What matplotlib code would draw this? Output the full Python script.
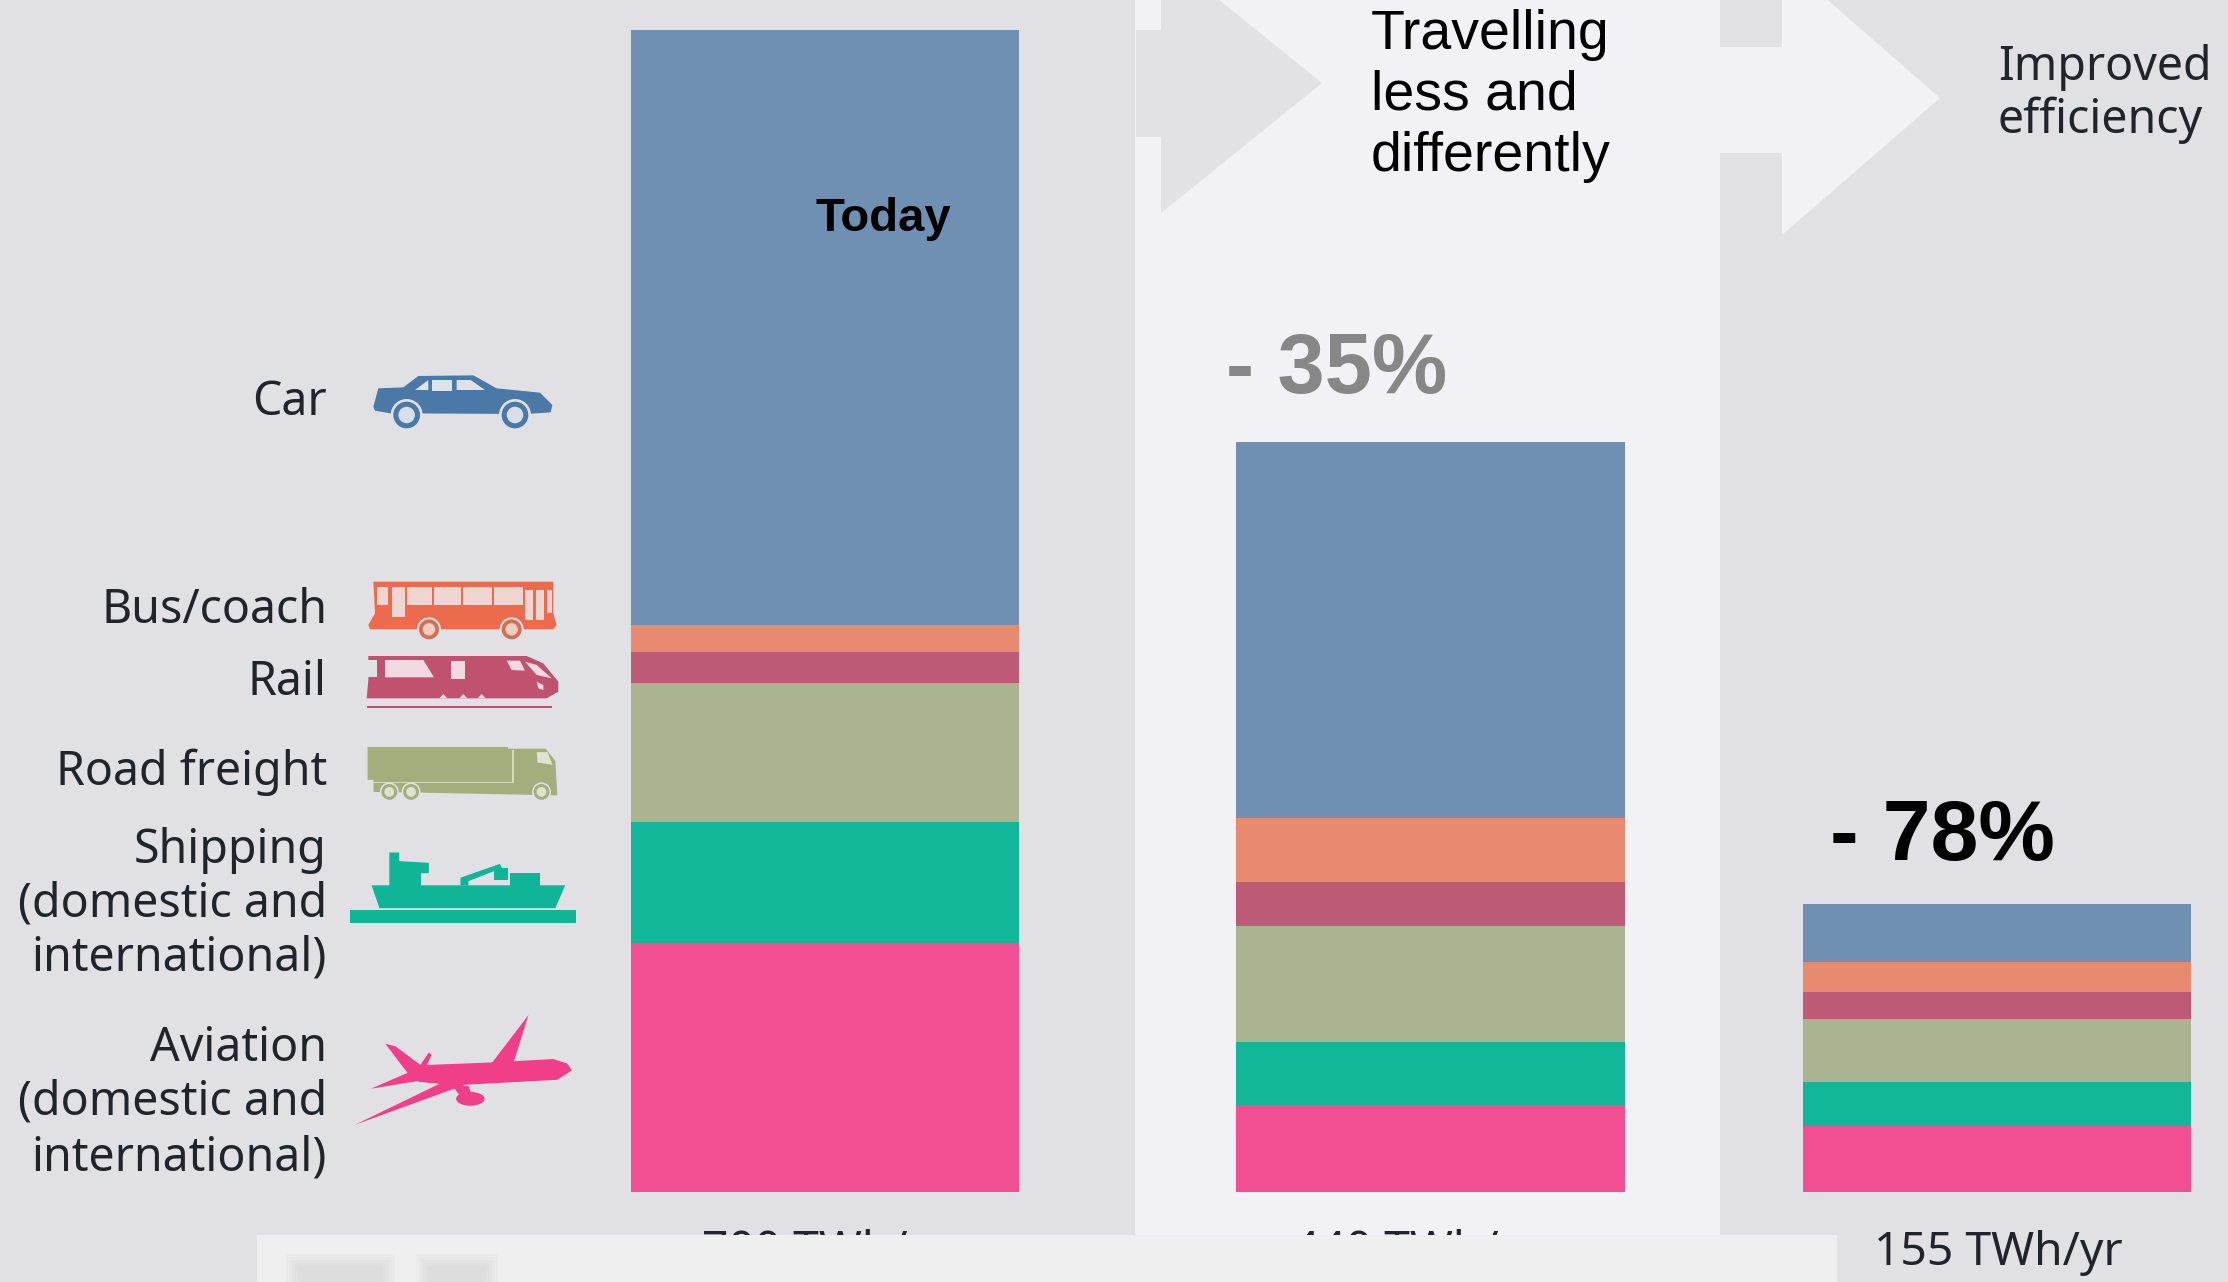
import matplotlib
matplotlib.use('Agg')
import matplotlib.pyplot as plt
from matplotlib.patches import Polygon, Rectangle, Circle, Ellipse

# energy demand per mode, TWh/yr, top of the stack first
modes = ['Car', 'Bus/coach', 'Rail', 'Road freight', 'Shipping', 'Aviation']
today = [358.4, 16.3, 18.7, 83.7, 72.6, 150.3]
less_travel = [220.7, 37.3, 26.0, 68.0, 37.0, 51.0]
efficient = [31.3, 16.1, 14.5, 33.9, 23.7, 35.5]
scenarios = [today, less_travel, efficient]
totals = ['700 TWh/yr', '440 TWh/yr', '155 TWh/yr']

colors = ['#6f8fb3', '#e78a70', '#bd5b77', '#abb490', '#12b79a', '#f14f92']
icon_colors = ['#4a79a8', '#ec6b4c', '#c1526f', '#a4ad7c', '#10b497', '#f03e88']

W, H = 2228, 1282
BG = '#e1e1e5'
LIGHT = '#f1f1f6'
SANS = 'Liberation Sans'
LABEL = 'Noto Sans'
INK = '#22242b'

# bar frames in pixels: left, right, top
frames = [(631, 1019, 30), (1236, 1625, 442), (1803, 2191, 904)]
BASE = 1192

fig = plt.figure(figsize=(W / 100, H / 100), dpi=100, facecolor=BG)

# full figure layer in pixel coordinates, y pointing down
bg = fig.add_axes([0, 0, 1, 1])
bg.set_xlim(0, W)
bg.set_ylim(H, 0)
bg.axis('off')


def poly(pts, color, zorder=2):
    bg.add_patch(Polygon(pts, closed=True, fc=color, ec='none', zorder=zorder))


def shape(pts, ox, oy, sx, sy, color, zorder=3):
    poly([(ox + x / sx, oy + y / sy) for x, y in pts], color, zorder)


def box(x, y, w, h, ox, oy, sx, sy, color, zorder=4):
    bg.add_patch(Rectangle((ox + x / sx, oy + y / sy), w / sx, h / sy,
                           fc=color, ec='none', zorder=zorder))


def wheel(x, y, r, ox, oy, sx, sy, color, hub):
    cx, cy = ox + x / sx, oy + y / sy
    bg.add_patch(Circle((cx, cy), r * 1.2 / sx, fc=BG, ec='none', zorder=5))
    bg.add_patch(Circle((cx, cy), r / sx, fc=color, ec='none', zorder=6))
    bg.add_patch(Circle((cx, cy), r * 0.62 / sx, fc=hub, ec='none', zorder=7))


# light middle column and the two arrows
bg.add_patch(Rectangle((1135, 0), 585, 1240, fc=LIGHT, ec='none', zorder=1))
poly([(1136, 30), (1161, 30), (1161, -47), (1322, 83), (1161, 213), (1161, 137), (1136, 137)],
     '#e2e2e6')
poly([(1720, 47), (1782, 47), (1782, -40), (1940, 98), (1782, 235), (1782, 153), (1720, 153)],
     LIGHT)

# stacked bars, one axes per scenario so each stack spans its own total
bar_axes = []
for vals, (x0, x1, top) in zip(scenarios, frames):
    ax = fig.add_axes([x0 / W, 1 - BASE / H, (x1 - x0) / W, (BASE - top) / H])
    ax.patch.set_alpha(0)
    bottom = sum(vals)
    ax.set_xlim(-0.5, 0.5)
    ax.set_ylim(0, bottom)
    ax.axis('off')
    for v, c in zip(vals, colors):
        bottom -= v
        ax.bar(0, v, width=1, bottom=bottom, color=c, linewidth=0)
    bar_axes.append(ax)

# headers and percentages
bar_axes[0].text(816, 231, 'Today', transform=bg.transData, family=SANS, weight='bold',
                 fontsize=34, color='black', clip_on=False)
bg.text(1226, 393, '- 35%', family=SANS, weight='bold', fontsize=61, color='#878787', zorder=8)
bg.text(1830, 860, '- 78%', family=SANS, weight='bold', fontsize=62, color='black', zorder=8)
for line, y in zip(['Travelling', 'less and', 'differently'], [49, 110, 171]):
    bg.text(1371, y, line, family=SANS, fontsize=40, color='black', zorder=8)
for line, y in zip(['Improved', 'efficiency'], [80, 133]):
    bg.text(1998, y, line, family=LABEL, fontsize=33.5, color=INK, zorder=8)

# mode labels, right aligned against the icons
side_labels = [('Car', 415), ('Bus/coach', 623), ('Rail', 695), ('Road freight', 785),
               ('Shipping', 863), ('(domestic and', 917), ('international)', 971),
               ('Aviation', 1061), ('(domestic and', 1115), ('international)', 1170)]
for txt, y in side_labels:
    bg.text(327, y, txt, family=LABEL, fontsize=33.5, color=INK, ha='right', zorder=8)

# totals under the bars; the first two run under the pasted panel
for txt, cx, y in zip(totals, [826, 1417, 1998], [1264, 1264, 1265]):
    bg.text(cx, y, txt, family=LABEL, fontsize=33.3, color=INK, ha='center', zorder=8)

# pale panel across the bottom with a smudged caption
bg.add_patch(Rectangle((257, 1235), 1580, 47, fc='#efeff0', ec='none', zorder=9))
for x, w in [(298, 85), (428, 58)]:
    for grow in [12, 9, 6, 3, 0]:
        bg.add_patch(Rectangle((x - grow, 1266 - grow), w + 2 * grow, 16 + grow,
                               fc='#bcbcbc', ec='none', alpha=0.07, zorder=10))

# car
c = icon_colors[0]
g = (340, 360, 3, 3)
shape([(100, 140), (115, 85), (190, 82), (235, 48), (400, 46), (470, 85), (600, 98),
       (637, 135), (632, 157), (560, 162), (150, 160), (105, 152)], *g, c)
for pts in [[(225, 90), (265, 60), (265, 90)],
            [(277, 60), (335, 60), (335, 92), (277, 92)],
            [(350, 60), (392, 60), (435, 90), (350, 90)]]:
    shape(pts, *g, '#dde3ec', zorder=4)
wheel(200, 165, 40, *g, c, '#d9dfe8')
wheel(525, 165, 40, *g, c, '#d9dfe8')

# bus
c = icon_colors[1]
g = (340, 570, 3, 3)
shape([(100, 35), (640, 35), (640, 130), (650, 165), (640, 178), (90, 178), (85, 165), (105, 130)],
      *g, c)
for x, y, w, h in [(110, 50, 35, 55), (155, 50, 40, 90), (200, 50, 75, 55), (282, 50, 80, 55),
                   (370, 50, 85, 55), (463, 50, 85, 55), (555, 60, 25, 90), (588, 60, 25, 90),
                   (620, 60, 15, 70)]:
    box(x, y, w, h, *g, '#efd6d2')
wheel(267, 178, 30, *g, '#d0705a', '#f3cdbd')
wheel(515, 178, 30, *g, '#d0705a', '#f3cdbd')

# train
c = icon_colors[2]
g = (340, 570, 3, 3)
shape([(85, 258), (560, 258), (610, 280), (655, 335), (655, 365), (620, 385), (80, 385), (85, 330)],
      *g, c)
light = '#f2d8df'
shape([(135, 270), (250, 270), (282, 322), (135, 322)], *g, light, zorder=4)
shape([(80, 270), (110, 270), (110, 320), (80, 320)], *g, BG, zorder=4)
box(332, 272, 42, 55, *g, light)
shape([(500, 272), (540, 272), (555, 302), (515, 300)], *g, light, zorder=4)
shape([(555, 275), (590, 285), (635, 325), (590, 315)], *g, light, zorder=4)
shape([(590, 335), (610, 345), (610, 360), (595, 355)], *g, light, zorder=4)
for x in [310, 370, 425]:
    shape([(x - 12, 385), (x, 372), (x + 12, 385)], *g, light, zorder=4)
box(80, 408, 555, 5, *g, c)

# truck
c = icon_colors[3]
g = (0, 740, 2.53, 2.89)
shape([(930, 20), (1285, 20), (1285, 25), (1380, 25), (1405, 60), (1410, 160), (1060, 152),
       (945, 150), (945, 115), (930, 115)], *g, c)
box(1296, 30, 5, 92, *g, '#d5d9bf')
box(945, 120, 355, 4, *g, '#d5d9bf')
shape([(1358, 35), (1385, 35), (1398, 72), (1360, 65)], *g, '#dfe2d3', zorder=4)
for x in [985, 1040, 1370]:
    wheel(x, 150, 20, *g, c, '#e0e2d0')

# ship
c = icon_colors[4]
g = (0, 740, 2.53, 2.89)
shape([(940, 420), (1430, 420), (1405, 486), (960, 486)], *g, c)
shape([(985, 325), (1010, 325), (1010, 350), (1085, 355), (1085, 385), (1065, 385),
       (1065, 425), (985, 425)], *g, c)
shape([(1290, 385), (1365, 385), (1365, 425), (1290, 425)], *g, c)
shape([(1250, 370), (1285, 370), (1285, 405), (1250, 405)], *g, c)
shape([(1165, 398), (1265, 358), (1270, 370), (1185, 408), (1185, 420), (1165, 420)], *g, c)
box(885, 492, 573, 36, *g, c)

# plane
c = icon_colors[5]
g = (0, 740, 2.53, 2.89)
shape([(1030, 965), (1060, 940), (1240, 932), (1400, 922), (1435, 935), (1447, 955), (1410, 982),
       (1150, 998), (1060, 988)], *g, c)
shape([(975, 878), (1000, 885), (1065, 940), (1035, 968)], *g, c)
shape([(938, 1008), (1035, 960), (1060, 985)], *g, c)
shape([(1240, 940), (1337, 795), (1300, 930)], *g, c)
shape([(898, 1112), (1180, 995), (1115, 992)], *g, c)
shape([(1060, 945), (1085, 903), (1092, 910), (1078, 945)], *g, c)
shape([(1145, 1000), (1185, 1000), (1195, 1030), (1165, 1030)], *g, c)
bg.add_patch(Ellipse((1190 / 2.53, 740 + 1037 / 2.89), 72 / 2.53, 40 / 2.89, fc=c, ec='none', zorder=3))

fig.savefig('out.png', dpi=100, facecolor=BG)
